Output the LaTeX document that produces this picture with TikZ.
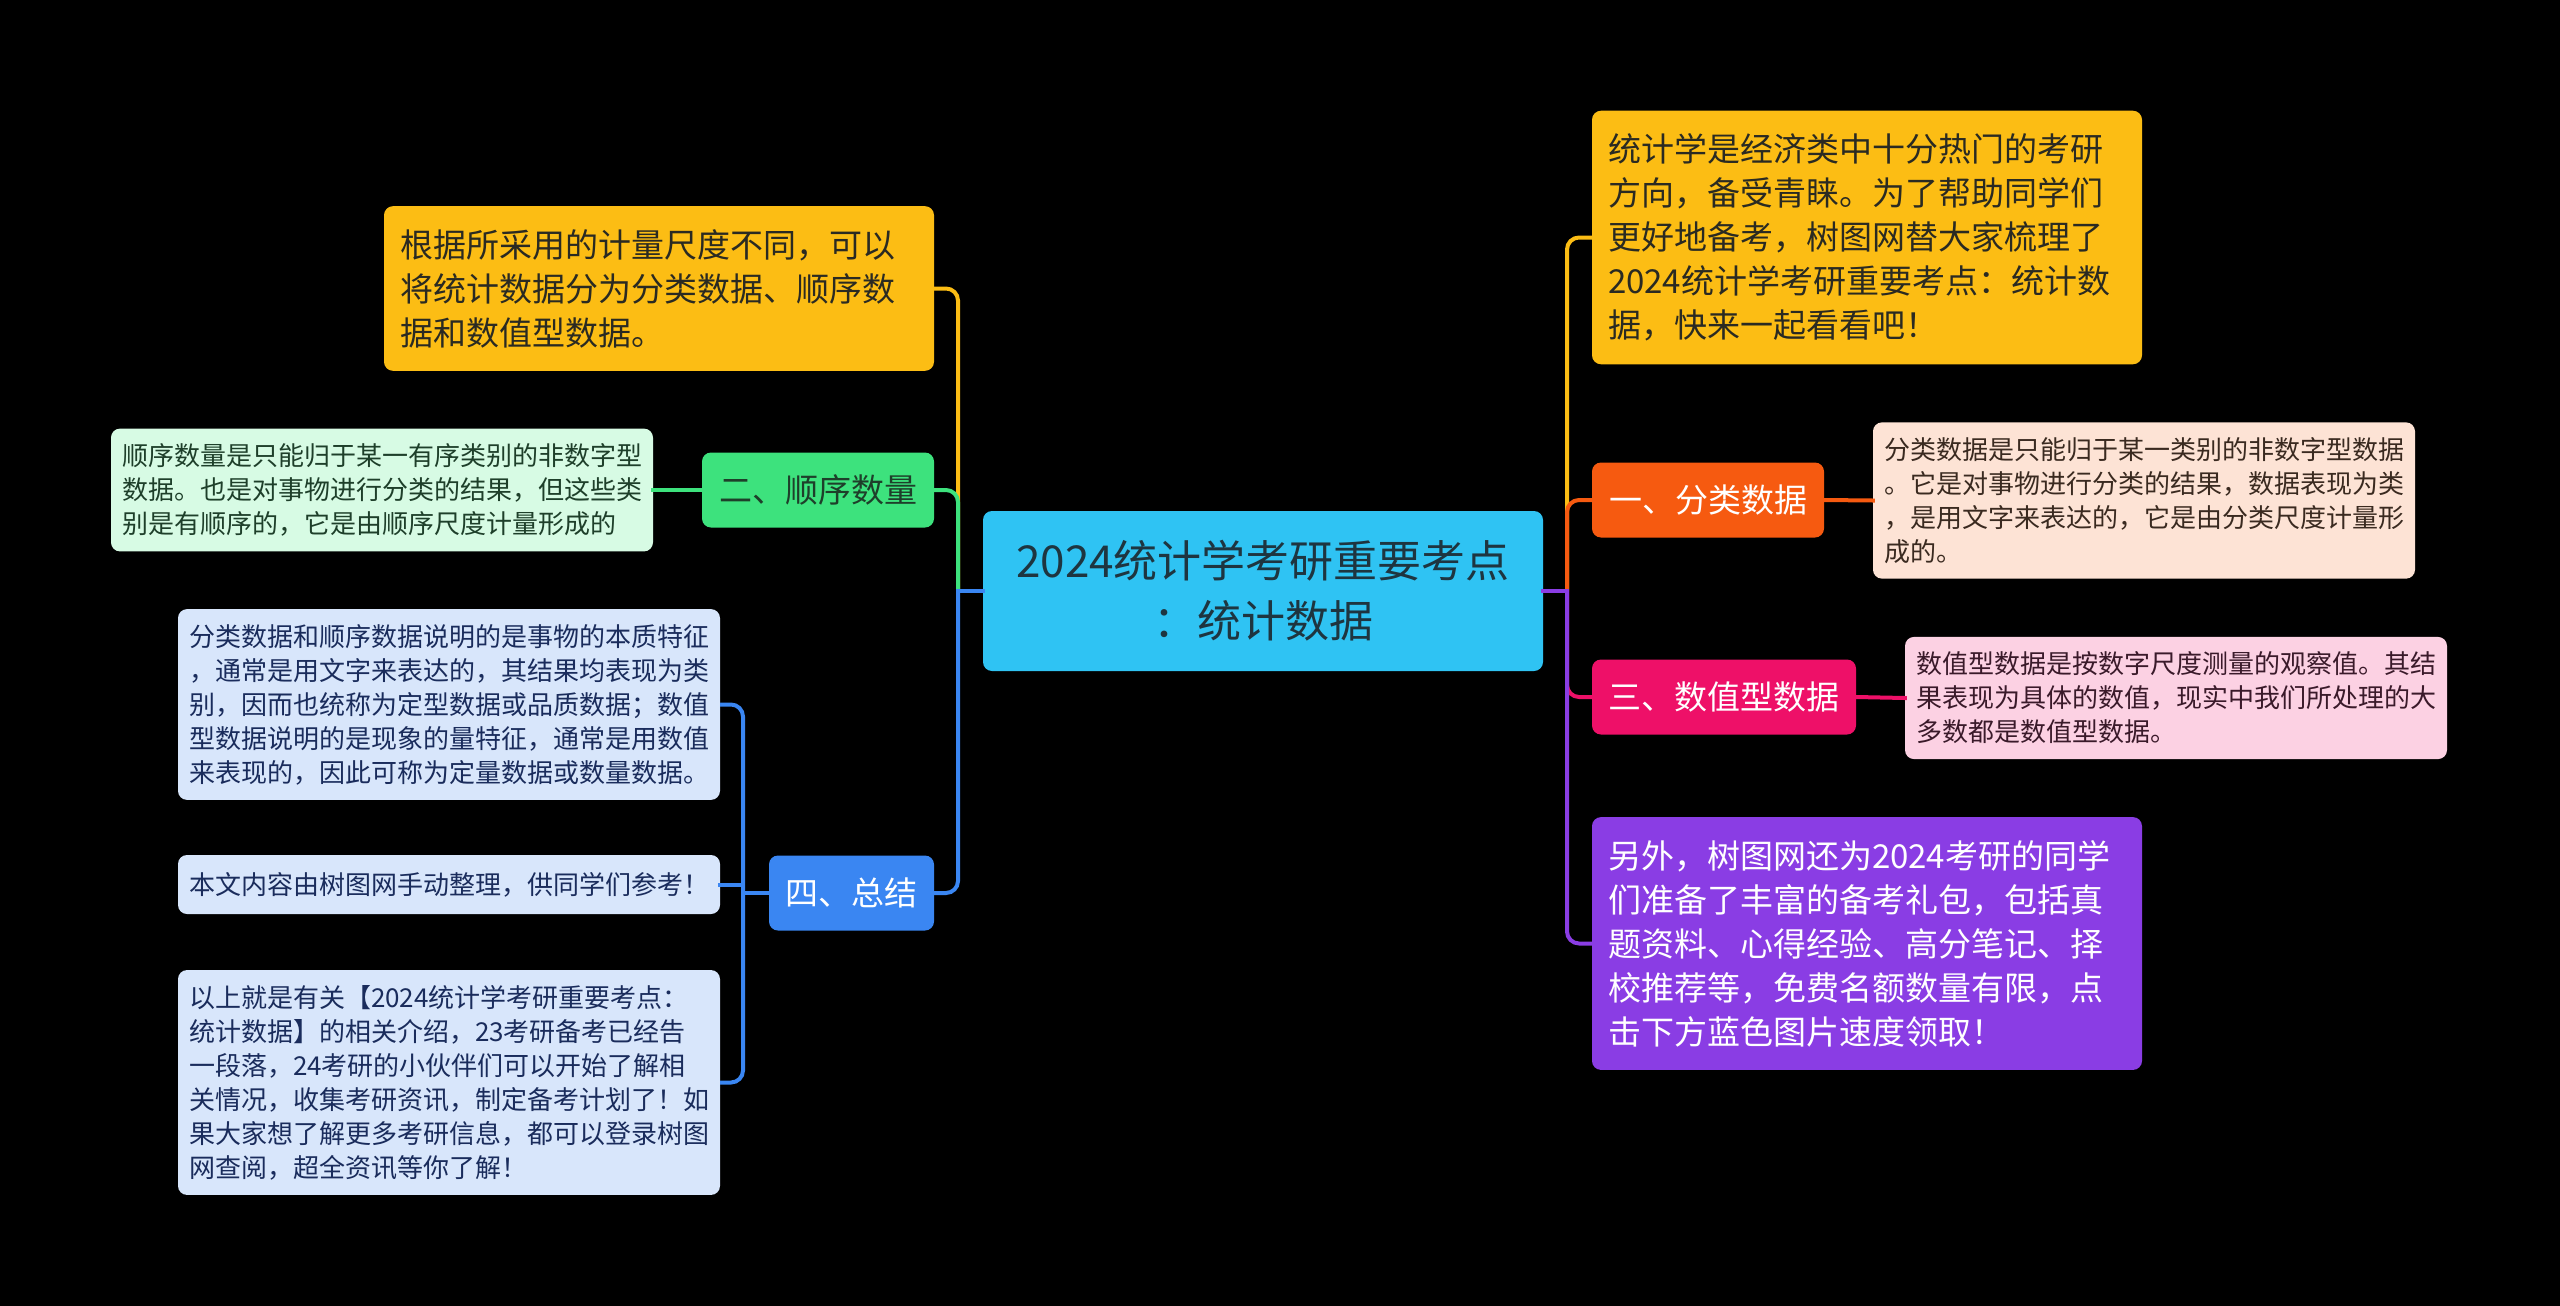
\documentclass[tikz,border=0pt]{standalone}
\usepackage{fontspec}
\setmainfont{Noto Sans CJK SC}
\definecolor{cyanC}{HTML}{2FC3F3}
\definecolor{goldC}{HTML}{FCBD14}
\definecolor{orangeC}{HTML}{F65A10}
\definecolor{pinkC}{HTML}{EE1068}
\definecolor{purpleC}{HTML}{8A3DE4}
\definecolor{greenC}{HTML}{3DE27D}
\definecolor{blueC}{HTML}{3A86F2}
\definecolor{peachL}{HTML}{FDE3D5}
\definecolor{pinkL}{HTML}{FCD1E3}
\definecolor{greenL}{HTML}{D7FBE4}
\definecolor{blueL}{HTML}{D8E6FB}
\definecolor{darkT}{HTML}{2A2A22}
\definecolor{titleT}{HTML}{1E3540}
\definecolor{peachT}{HTML}{3A2A20}
\definecolor{pinkT}{HTML}{3A1A2A}
\definecolor{greenT}{HTML}{1E3F2A}
\definecolor{blueT}{HTML}{1A2C5C}
\tikzset{
  box/.style={rounded corners=9pt, inner sep=0pt},
  bigtext/.style={box, text width=518pt, align=left, inner xsep=16pt, inner ysep=23pt,
    font=\fontsize{33}{44}\selectfont},
  smalltext/.style={box, text width=520pt, align=left, inner xsep=11pt, inner ysep=15pt,
    font=\fontsize{26}{34}\selectfont},
  branch/.style={box, minimum height=75pt, inner xsep=16.5pt, font=\fontsize{33}{40}\selectfont},
  conn/.style={line width=4pt, rounded corners=12pt},
  stub/.style={line width=4pt, line cap=rect}
}
\begin{document}
\begin{tikzpicture}[x=1pt,y=-1pt]
\fill[black] (0,0) rectangle (2560,1306);
\useasboundingbox (0,0) rectangle (2560,1306);

% center
\node[box, fill=cyanC, text=titleT, minimum width=560pt, minimum height=160pt, align=center,
  font=\fontsize{44}{60}\selectfont] (c) at (1263,591) {2024统计学考研重要考点\\：统计数据};

% right side
\node[bigtext, fill=goldC, text=darkT] (y1) at (1867,237.5)
 {统计学是经济类中十分热门的考研\\方向，备受青睐。为了帮助同学们\\更好地备考，树图网替大家梳理了\\2024统计学考研重要考点：统计数\\据，快来一起看看吧！};
\node[branch, fill=orangeC, text=white, minimum width=232pt] (fen) at (1708,500) {一、分类数据};
\node[smalltext, fill=peachL, text=peachT] (fenc) at (2144,500.5)
 {分类数据是只能归于某一类别的非数字型数据\\。它是对事物进行分类的结果，数据表现为类\\，是用文字来表达的，它是由分类尺度计量形\\成的。};
\node[branch, fill=pinkC, text=white, minimum width=264pt] (shu) at (1724,697) {三、数值型数据};
\node[smalltext, fill=pinkL, text=pinkT] (shuc) at (2176,698)
 {数值型数据是按数字尺度测量的观察值。其结\\果表现为具体的数值，现实中我们所处理的大\\多数都是数值型数据。};
\node[bigtext, fill=purpleC, text=white] (pu) at (1867,943.5)
 {另外，树图网还为2024考研的同学\\们准备了丰富的备考礼包，包括真\\题资料、心得经验、高分笔记、择\\校推荐等，免费名额数量有限，点\\击下方蓝色图片速度领取！};

% left side
\node[bigtext, fill=goldC, text=darkT] (ly) at (659,288.5)
 {根据所采用的计量尺度不同，可以\\将统计数据分为分类数据、顺序数\\据和数值型数据。};
\node[branch, fill=greenC, text=greenT, minimum width=232pt] (shun) at (818,490) {二、顺序数量};
\node[smalltext, fill=greenL, text=greenT] (shunc) at (382,490)
 {顺序数量是只能归于某一有序类别的非数字型\\数据。也是对事物进行分类的结果，但这些类\\别是有顺序的，它是由顺序尺度计量形成的};
\node[branch, fill=blueC, text=white, minimum width=165pt] (zong) at (851.5,893) {四、总结};
\node[smalltext, fill=blueL, text=blueT] (z1) at (449,704.5)
 {分类数据和顺序数据说明的是事物的本质特征\\，通常是用文字来表达的，其结果均表现为类\\别，因而也统称为定型数据或品质数据；数值\\型数据说明的是现象的量特征，通常是用数值\\来表现的，因此可称为定量数据或数量数据。};
\node[smalltext, fill=blueL, text=blueT, minimum height=59pt] (z2) at (449,884.5)
 {本文内容由树图网手动整理，供同学们参考！};
\node[smalltext, fill=blueL, text=blueT] (z3) at (449,1082.5)
 {以上就是有关【2024统计学考研重要考点：\\统计数据】的相关介绍，23考研备考已经告\\一段落，24考研的小伙伴们可以开始了解相\\关情况，收集考研资讯，制定备考计划了！如\\果大家想了解更多考研信息，都可以登录树图\\网查阅，超全资讯等你了解！};

% trunks
\coordinate (TL) at (958,591);
\coordinate (TR) at (1567,591);
\coordinate (ZT) at (743,893);

% left connectors
\draw[conn, goldC] (TL) |- (ly.east);
\draw[conn, greenC] (TL) |- (shun.east);
\draw[conn, blueC] (TL) |- (zong.east);
\draw[stub, blueC] (c.west) -- (TL);
\draw[stub, greenC] (shun.west) -- (shunc.east);
\draw[conn, blueC] (ZT) |- (z1.east);
\draw[conn, blueC] (ZT) |- (z3.east);
\draw[stub, blueC] (ZT |- z2.east) -- (z2.east);
\draw[stub, blueC] (zong.west) -- (ZT);

% right connectors
\draw[conn, goldC] (TR) |- (y1.west);
\draw[conn, orangeC] (TR) |- (fen.west);
\draw[conn, pinkC] (TR) |- (shu.west);
\draw[conn, purpleC] (TR) |- (pu.west);
\draw[stub, purpleC] (c.east) -- (TR);
\draw[stub, orangeC] (fen.east) -- (fenc.west);
\draw[stub, pinkC] (shu.east) -- (shuc.west);
\end{tikzpicture}
\end{document}
